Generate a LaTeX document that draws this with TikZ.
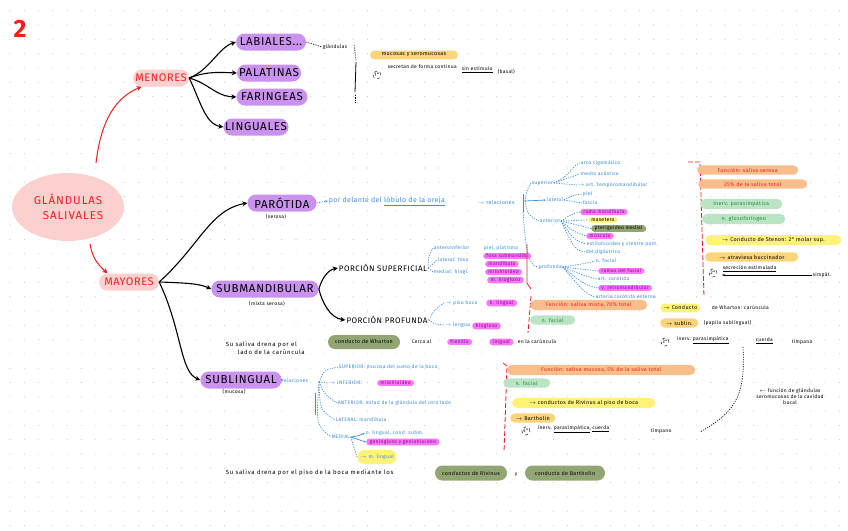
\documentclass[tikz,border=0pt]{standalone}
\usepackage{fontspec}
\setmainfont{Fira Sans}
\usetikzlibrary{shapes.misc,shapes.geometric,arrows.meta}
\definecolor{purp}{RGB}{202,146,238}
\definecolor{pinkf}{RGB}{253,208,208}
\definecolor{redt}{RGB}{238,32,32}
\definecolor{orangef}{RGB}{250,190,140}
\definecolor{yellowf}{RGB}{255,242,120}
\definecolor{mustard}{RGB}{252,212,122}
\definecolor{lgreen}{RGB}{186,228,196}
\definecolor{dgreen}{RGB}{146,166,116}
\definecolor{bluet}{RGB}{58,140,222}
\definecolor{magf}{RGB}{246,120,246}
\definecolor{magt}{RGB}{150,0,150}
\definecolor{greent}{RGB}{40,140,70}
\definecolor{dotc}{RGB}{200,200,200}
\tikzset{
  pill/.style={rounded rectangle, inner xsep=4pt, inner ysep=1.5pt, minimum height=17pt},
  purpbox/.style={pill, fill=purp, font=\fontsize{11.5}{12}\selectfont\addfontfeature{LetterSpace=6}},
  pinkbox/.style={pill, fill=pinkf, text=redt, font=\fontsize{11}{12}\selectfont\addfontfeature{LetterSpace=5}},
  tiny/.style={inner sep=0.6pt, font=\fontsize{5}{6}\selectfont\addfontfeature{LetterSpace=6}},
  tinyb/.style={tiny, text=bluet},
  subl/.style={inner sep=0.6pt, font=\fontsize{5.4}{6}\selectfont\addfontfeature{LetterSpace=6}},
  midt/.style={inner sep=0.6pt, font=\fontsize{6}{7.6}\selectfont\addfontfeature{LetterSpace=12}},
  hl/.style={rounded rectangle, inner xsep=2.5pt, inner ysep=1pt, font=\fontsize{5}{6}\selectfont\addfontfeature{LetterSpace=6}},
  maghl/.style={hl, fill=magf, text=magt},
  bigpill/.style={rounded rectangle, inner xsep=5pt, inner ysep=2.4pt, font=\fontsize{5.4}{6}\selectfont\addfontfeature{LetterSpace=6}},
  porc/.style={inner sep=1pt, font=\fontsize{8}{8}\selectfont\addfontfeature{LetterSpace=6}},
  blk/.style={draw=black, line width=1.1pt, -{Stealth[length=5pt,width=5pt]}},
  redarr/.style={draw=redt, line width=1pt, -{Stealth[length=5pt,width=5pt]}},
  bdot/.style={draw=bluet, line width=0.7pt, dash pattern=on 1.2pt off 1.3pt},
  bline/.style={draw=bluet, line width=0.7pt},
  reddash/.style={draw=redt, line width=0.8pt, dash pattern=on 5pt off 2pt},
  kdash/.style={draw=black, line width=0.6pt, dash pattern=on 1.2pt off 1.2pt},
}
\begin{document}
\begin{tikzpicture}[x=1pt,y=-1pt]
\useasboundingbox[fill=white] (0,0) rectangle (848,530);
% dot grid
\foreach \i in {0,...,58}{\foreach \j in {0,...,36}{
  \fill[dotc] (10+14.3*\i,10.7+14.3*\j) circle (0.55pt);}}

% number
\node[text=redt, font=\fontsize{25}{25}\selectfont\bfseries] (num) at (20,29) {2};

% root
\node[ellipse, fill=pinkf, minimum width=112pt, minimum height=68pt, align=center, text=redt,
  font=\fontsize{11.5}{15}\selectfont\addfontfeature{LetterSpace=8}] (glan) at (68,207) {GLÁNDULAS\\\hspace*{10pt}SALIVALES};
\node[pinkbox, minimum width=64pt] (men) at (161,78) {MENORES};
\node[pinkbox, minimum width=68pt] (may) at (129,282) {MAYORES};
\draw[redarr] (96,163) .. controls (100,130) and (110,100) .. (men.south west);
\draw[redarr] (90,244) .. controls (92,255) and (95,262) .. (may.north west);

% menores
\node[purpbox, minimum width=78pt] (lab) at (271,42) {LABIALES...};
\node[purpbox, minimum width=72pt] (pal) at (269,73) {PALATINAS};
\node[purpbox, minimum width=79pt] (far) at (272,97) {FARINGEAS};
\node[purpbox, minimum width=73pt] (lin) at (256,127) {LINGUALES};
\draw[blk] (men.east) .. controls (210,70) and (218,48) .. (lab.west);
\draw[blk] (men.east) .. controls (205,72) and (215,72) .. (pal.west);
\draw[blk] (men.east) .. controls (210,84) and (215,96) .. (far.west);
\draw[blk] (men.east) .. controls (200,100) and (205,124) .. (lin.west);
\node[tiny] (glm) at (335,47) {glándulas};
\draw[kdash] (lab.east) -- (glm.west);
\coordinate (br1) at (354,45);
\coordinate (br2) at (355,103);
\draw[kdash] (br1) -- (356,60);
\draw[line width=0.8pt] (356,62) -- (355,92);
\draw[kdash] (355,95) -- (br2);
\node[bigpill, fill=mustard, minimum width=98pt] (muc) at (414,55) {mucosas y seromucosas};
\node[circle, draw, dashed, inner sep=0.8pt, tiny] (c1) at (377,75) {1°};
\node[tiny, anchor=west] (mt1) at (387,67) {secretan de forma continua};
\node[tiny, anchor=west] (mtu) at (461,70) {\underline{sin estímulo}};
\node[tiny, anchor=west] (mt2) at (497,72) {(basal)};

% mayores
\node[purpbox, minimum width=77pt] (par) at (282,203) {PARÓTIDA};
\node[tiny] (parsub) at (276,217) {(serosa)};
\node[purpbox, minimum width=105pt] (sbm) at (265,289) {SUBMANDIBULAR};
\node[tiny] (sbmsub) at (267,304) {(mixta serosa)};
\node[purpbox, minimum width=76pt] (sbl) at (241,380) {SUBLINGUAL};
\node[tiny] (sblsub) at (234,392) {(mucosa)};
\draw[blk] (may.east) .. controls (200,245) and (210,210) .. (par.west);
\draw[blk] (may.east) .. controls (190,283) and (200,284) .. (sbm.west);
\draw[blk] (may.east) .. controls (182,330) and (180,372) .. (sbl.west);

% ---------- parotida
\node[inner sep=0.6pt, text=bluet, font=\fontsize{7}{8}\selectfont\addfontfeature{LetterSpace=5}, anchor=west] (pt1) at (328,201) {por delante del \underline{lóbulo de la oreja}};
\draw[bdot, -{Stealth[length=3pt]}] (par.east) -- (pt1.west);
\node[subl, text=bluet, anchor=west] (prel) at (477,202) {$\rightarrow$ relaciones};
\draw[bline] (523,194) -- (523,212);
\coordinate (pb) at (525,201);
\node[tinyb, anchor=west] (psup) at (531,183) {superior};
\node[tinyb, anchor=west] (plat) at (546,200) {lateral};
\node[tinyb, anchor=west] (pant) at (539,221) {anterior};
\node[tinyb, anchor=west] (pmed) at (538,267) {profunda};
\draw[bdot] (pb) .. controls (527,190) .. (psup.west);
\draw[bline, -{Stealth[length=2.5pt]}] (pb) -- (plat.west);
\draw[bdot] (pb) .. controls (528,215) .. (pant.west);
\draw[bdot] (523,212) .. controls (526,250) and (528,266) .. (pmed.west);
% superior items
\node[tinyb, anchor=west] (ps1) at (580,163) {arco cigomático};
\node[tinyb, anchor=west] (ps2) at (580,174) {meato acústico};
\node[tinyb, anchor=west] (ps3) at (577,185) {$\rightarrow$ art. temporomandibular};
\draw[bdot] (psup.east) .. controls (572,175) and (572,165) .. (ps1.west);
\draw[bdot] (psup.east) -- (ps2.west);
\draw[bdot] (psup.east) -- (ps3.west);
% lateral
\node[tinyb, anchor=west] (pl1) at (582,194) {piel};
\node[tinyb, anchor=west] (pl2) at (582,203) {fascia};
\draw[bdot] (plat.east) .. controls (574,195) .. (pl1.west);
\draw[bdot] (plat.east) -- (pl2.west);
% anterior
\node[maghl, anchor=west] (pa1) at (580,212) {rama mandíbula};
\node[hl, fill=yellowf, anchor=west] (pa2) at (588,220) {masetero};
\node[hl, fill=dgreen, anchor=west] (pa3) at (591,228.5) {pterigoideo medial};
\node[maghl, anchor=west] (pa4) at (586,236) {músculo};
\node[tinyb, anchor=west] (pa5) at (586,244) {estilohioideo y vientre post.};
\node[tinyb, anchor=west] (pa6) at (585,252) {del digástrico};
\draw[bdot] (pant.east) .. controls (572,214) .. (pa1.west);
\draw[bdot] (pant.east) -- (pa2.west);
\draw[bdot] (pant.east) -- (pa3.west);
\draw[bdot] (pant.east) .. controls (574,232) .. (pa4.west);
\draw[bdot] (pant.east) .. controls (574,240) .. (pa5.west);
\draw[bdot] (pant.east) .. controls (575,250) .. (pa6.west);
% medial
\node[tinyb, anchor=west] (pm1) at (595,261) {n. facial};
\node[maghl, anchor=west] (pm2) at (598,271) {ramas del facial};
\node[tinyb, anchor=west] (pm3) at (597,279) {art. carótida};
\node[maghl, anchor=west] (pm4) at (598,288) {v. retromandibular};
\node[tinyb, anchor=west] (pm5) at (595,297) {arteria carótida externa};
\draw[bdot] (pmed.east) .. controls (588,263) .. (pm1.west);
\draw[bdot] (pmed.east) .. controls (590,270) .. (pm2.west);
\draw[bdot] (pmed.east) .. controls (585,276) .. (pm3.west);
\draw[bdot] (pmed.east) .. controls (585,285) .. (pm4.west);
\draw[bdot] (pmed.east) .. controls (585,293) .. (pm5.west);
% right column parotid
\coordinate (rp1) at (688,162);
\coordinate (rp2) at (704,297);
\draw[reddash] (rp1) -- (700,162) -- (rp2);
\node[bigpill, fill=orangef, text=redt, minimum width=111pt, anchor=west] (po1) at (697,170) {Función: saliva serosa};
\node[bigpill, fill=orangef, text=redt, minimum width=119pt, anchor=west] (po2) at (698,184) {25\% de la saliva total};
\node[bigpill, fill=lgreen, text=greent, minimum width=92pt, anchor=west] (pg1) at (700,204) {inerv. parasimpática};
\node[bigpill, fill=lgreen, text=greent, minimum width=93pt, anchor=west] (pg2) at (702,219) {n. glosofaríngeo};
\node[bigpill, fill=yellowf, minimum width=146pt, anchor=west] (py1) at (705,240) {$\rightarrow$ Conducto de Stenon: 2° molar sup.};
\node[bigpill, fill=mustard, minimum width=103pt, anchor=west] (py2) at (705,257) {$\rightarrow$ atraviesa buccinador};
\node[circle, draw, dashed, inner sep=0.8pt, tiny] (c2) at (713,273) {2°};
\node[tiny, anchor=west] (pt9) at (722,269) {\underline{secreción estimulada}};
\coordinate (pa) at (722,275);
\node[tiny, anchor=west] (pt10) at (812,275) {simpát.};
\draw[line width=0.6pt, -{Stealth[length=3pt]}] (pt10.west) -- (pa);

% ---------- submandibular
\node[porc] (psupf) at (383,268) {PORCIÓN SUPERFICIAL};
\node[porc] (pprof) at (387,320) {PORCIÓN PROFUNDA};
\draw[blk] (sbm.east) .. controls (322,278) and (328,270) .. (psupf.west);
\draw[blk] (sbm.east) .. controls (322,302) and (330,318) .. (pprof.west);
\node[tinyb, anchor=west] (ss1) at (433,248) {anteroinferior};
\node[tinyb, anchor=west] (ss2) at (437,260) {lateral: fosa};
\node[tinyb, anchor=west] (ss3) at (433,272) {medial: hiogl.};
\draw[bdot] (psupf.east) .. controls (428,258) .. (ss1.west);
\draw[bdot] (psupf.east) -- (ss2.west);
\draw[bdot] (psupf.east) -- (ss3.west);
\node[tinyb, anchor=west] (sm0) at (483,248) {piel, platisma};
\node[maghl, anchor=west] (sm1) at (483,256) {fosa submandib.};
\node[maghl, anchor=west] (sm2) at (485,264) {mandíbula};
\node[maghl, anchor=west] (sm3) at (485,272) {milohioideo};
\node[maghl, anchor=west] (sm4) at (487,280) {m. hiogloso};
\draw[redt, line width=0.8pt] (527,244) -- (527,283) -- (531,289);
\node[tinyb, anchor=west] (sp1) at (444,303) {$\rightarrow$ piso boca};
\node[maghl, anchor=west] (sp1m) at (486,303) {n. lingual};
\node[tinyb, anchor=west] (sp2) at (444,325) {$\rightarrow$ lengua};
\node[maghl, anchor=west] (sp2m) at (472,326) {hiogloso};
\draw[bdot] (pprof.east) .. controls (434,310) .. (sp1.west);
\draw[bdot] (pprof.east) .. controls (434,324) .. (sp2.west);
\draw[reddash] (531,296) -- (528,333);
\node[bigpill, fill=orangef, text=redt, minimum width=127pt, anchor=west] (so1) at (530,305) {Función: saliva mixta, 70\% total};
\node[bigpill, fill=lgreen, text=greent, minimum width=55pt, anchor=west] (sg1) at (530,320) {n. facial};
\node[bigpill, fill=yellowf, minimum width=50pt, anchor=west] (sy1) at (660,308) {$\rightarrow$ Conducto};
\node[tiny, anchor=west] (sy1t) at (711,308) {de Wharton: carúncula};
\node[bigpill, fill=mustard, minimum width=34pt, anchor=west] (sy2) at (660,323) {$\rightarrow$ sublin.};
\node[tiny, anchor=west] (sy2t) at (703,323) {(papila sublingual)};
\node[circle, draw, dashed, inner sep=0.8pt, tiny] (c3) at (665,342) {3°};
\node[tiny, anchor=west] (st1) at (676,340) {inerv. \underline{parasimpática}};
\node[tiny, anchor=west] (st2) at (755,341) {\underline{cuerda}};
\node[tiny, anchor=west] (st3) at (791,342) {tímpano};
\coordinate (dv1) at (743,347);
\coordinate (dv2) at (700,432);
\draw[kdash] (dv1) .. controls (745,390) and (740,410) .. (dv2);
\node[tiny, align=center] (sfun) at (790,397) {$\leftarrow$ función de glándulas\\seromucosas de la cavidad\\bucal};

% drainage row
\node[midt, align=left, anchor=west] (dr1) at (225,348) {Su saliva drena por el\\\hspace*{12pt}lado de la carúncula};
\node[bigpill, fill=dgreen, minimum width=82pt, minimum height=14pt] (whar) at (364,342) {conducto de Wharton};
\node[tiny, anchor=west] (dr2) at (411,342) {Cerca al};
\node[maghl, anchor=west] (dr3) at (447,342) {frenillo};
\node[maghl, anchor=west] (dr4) at (489,342) {lingual};
\node[tiny, anchor=west] (dr5) at (517,342) {en la carúncula};

% ---------- sublingual
\node[tinyb, anchor=west] (srel) at (281,381) {relaciones};
\draw[bdot, -{Stealth[length=2.5pt]}] (sbl.east) -- (srel.west);
\coordinate (sb) at (319,382);
\node[tinyb, anchor=west] (sl1) at (338,367) {SUPERIOR: mucosa del suelo de la boca};
\node[tinyb, anchor=west] (sl2) at (328,383) {$\rightarrow$ INFERIOR:};
\node[maghl, anchor=west] (sl2m) at (377,383) {milohioideo};
\node[tinyb, anchor=west] (sl3) at (337,403) {ANTERIOR: mitad de la glándula del otro lado};
\node[tinyb, anchor=west] (sl4) at (335,420) {LATERAL: mandíbula};
\node[tinyb, anchor=west] (sl5) at (331,437) {MEDIAL};
\draw[bdot] (sb) .. controls (324,370) .. (sl1.west);
\draw[bdot] (sb) -- (sl2.west);
\draw[bdot] (sb) .. controls (325,395) .. (sl3.west);
\draw[bdot] (sb) .. controls (320,410) .. (sl4.west);
\draw[bdot] (sb) .. controls (316,425) .. (sl5.west);
\draw[bline] (315,393) -- (315,415);
\node[tinyb, anchor=west] (sm5) at (365,433) {n. lingual, cond. subm.};
\node[maghl, anchor=west] (sm6) at (366,442) {geniogloso y geniohioideo};
\node[hl, fill=yellowf, text=bluet, minimum height=14pt, anchor=west] (sm7) at (357,457) {$\rightarrow$ m. lingual};
\draw[bline, -{Stealth[length=2.5pt]}] (sl5.east) .. controls (358,436) .. (sm5.west);
\draw[bline, -{Stealth[length=2.5pt]}] (sl5.east) .. controls (358,440) .. (sm6.west);
\draw[bdot] (sl5.east) .. controls (354,447) .. (sm7.west);
\draw[reddash] (503,363) -- (507,366) -- (504,452);
\node[bigpill, fill=orangef, text=redt, minimum width=198pt, anchor=west] (lo1) at (507,370) {Función: saliva mucosa, 5\% de la saliva total};
\node[bigpill, fill=lgreen, text=greent, minimum width=57pt, anchor=west] (lg1) at (503,383) {n. facial};
\node[bigpill, fill=yellowf, minimum width=153pt, anchor=west] (ly1) at (512,403) {$\rightarrow$ conductos de Rivinus al piso de boca};
\node[bigpill, fill=mustard, minimum width=55pt, anchor=west] (ly2) at (510,418) {$\rightarrow$ Bartholin};
\node[circle, draw, dashed, inner sep=0.8pt, tiny] (c4) at (526,431) {4°};
\node[tiny, anchor=west] (lt1) at (537,429) {inerv. \underline{parasimpática}, \underline{cuerda}};
\node[tiny, anchor=west] (lt2) at (650,431) {tímpano};

% bottom row
\node[midt, anchor=west] (bt1) at (225,473) {Su saliva drena por el piso de la boca mediante los};
\node[bigpill, fill=dgreen, minimum width=82pt, minimum height=15pt] (riv) at (471,473) {conductos de Rivinus};
\node[tiny] (bty) at (516,475) {y};
\node[bigpill, fill=dgreen, minimum width=90pt, minimum height=15pt] (bart) at (565,473) {conducto de Bartholin};
\end{tikzpicture}
\end{document}
